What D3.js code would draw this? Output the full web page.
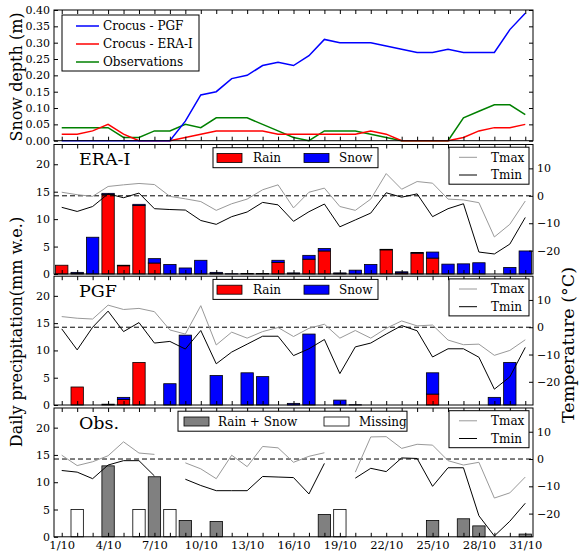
<!DOCTYPE html>
<html>
<head>
<meta charset="utf-8">
<script src="https://cdn.jsdelivr.net/npm/d3@7"></script>
<style>
  body { margin: 0; background: #fff; }
  text { font-family: "DejaVu Serif", serif; fill: #000; }
</style>
</head>
<body>
<svg id="chart" width="579" height="551"></svg>
<script>
// ---- data: October, days 1..31 ----
const days = [1,2,3,4,5,6,7,8,9,10,11,12,13,14,15,16,17,18,19,20,21,22,23,24,25,26,27,28,29,30,31];
const labelDays = [1,4,7,10,13,16,19,22,25,28,31];
const labelText = ["1/10","4/10","7/10","10/10","13/10","16/10","19/10","22/10","25/10","28/10","31/10"];

// snow depth (m)
const depthPGF = [0,0,0,0,0,0,0,0,0.06,0.14,0.15,0.19,0.20,0.23,0.24,0.23,0.26,0.31,0.30,0.30,0.30,0.29,0.28,0.27,0.27,0.28,0.27,0.27,0.27,0.34,0.39];
const depthERA = [0.02,0.02,0.03,0.05,0.02,0,0,0,0.01,0.02,0.03,0.03,0.03,0.03,0.02,0.02,0.02,0.02,0.02,0.02,0.03,0.02,0,0,0,0,0.01,0.03,0.04,0.04,0.05];
const depthObs = [0.04,0.04,0.04,0.04,0.01,0.01,0.03,0.03,0.05,0.04,0.07,0.07,0.07,0.05,0.03,0.01,0,0.03,0.03,0.03,0.02,0.01,0,0,0,0,0.07,0.09,0.11,0.11,0.08];

// ERA-Interim daily precipitation (mm w.e.) and temperature (°C)
const eraRain = [1.6,0.1,0,14.5,1.5,12.5,2.0,0,0,0,0.1,0,0,0,2.1,0.1,2.7,4.2,0.1,0,0,4.4,0.2,3.8,2.9,0,0,0,0,0,0];
const eraSnow = [0,0.2,6.7,0.2,0.1,0.2,0.8,1.75,1.1,2.5,0.2,0.05,0.1,0.1,0.4,0.1,0.7,0.45,0.1,0.7,1.75,0.1,0.2,0.1,1.1,1.8,1.85,2.05,0,1.2,4.2];
const eraTmax = [1.3,0.4,-0.2,3.4,4.0,4.5,4.1,-0.2,-1.1,-2.1,-5.3,-2.9,-1.2,2.2,4.0,-4.4,1.3,2.8,-3.9,-5.3,-1.2,8.1,2.4,5.2,4.6,-1.2,-1.5,-2.5,-15.0,-10.4,-1.9];
const eraTmin = [-4.2,-5.7,-3.9,0.7,-0.7,1.0,-4.7,-5.0,-5.2,-9.0,-10.4,-7.6,-5.9,-2.4,-3.3,-9.3,-5.8,-3.0,-11.3,-8.8,-6.3,1.1,-0.5,0.7,-7.6,-4.7,-2.9,-20.5,-21.2,-17.6,-7.9];

// PGF daily precipitation (mm w.e.) and temperature (°C)
const pgfRain = [0,3.3,0,0,1.0,7.8,0,0,0,0,0,0,0,0,0,0,0,0,0,0,0,0,0,0,2.0,0,0,0,0,0,0];
const pgfSnow = [0,0,0,0.15,0.4,0,0,3.9,12.8,0,5.4,0,5.9,5.2,0,0.3,13.0,0,0.9,0.05,0,0,0,0,3.9,0,0,0,1.4,7.8,0];
const pgfTmax = [3.9,3.3,3.0,8.1,6.5,6.9,5.7,-1.0,-2.5,7.9,-6.5,-1.8,-4.0,-1.6,-0.1,-3.4,-0.4,1.1,-4.0,-1.2,-4.0,-0.4,2.3,0.5,0.8,-4.7,-6.4,-6.2,-10.3,-8.5,-4.6];
const pgfTmin = [-0.6,-8.3,0,5.9,-1.6,1.7,-5.8,-5.2,-8.0,-1.2,-13.4,-9.1,-6.2,-3.3,-3.3,-10.4,-7.9,-4.5,-17.0,-7.2,-5.8,-2.5,0.6,-1.3,-10.9,-7.9,-7.9,-11.0,-22.7,-18.2,-7.4];

// station observations; missing days shown as empty bars
const obsPrecip = [0,0,0,13.0,0,0,11.0,0,3.0,0,2.8,0,0,0,0,0,0,4.1,0,0,0,0,0,0,3.0,0,3.3,2.0,0,0,0.5];
const obsMissing = [0,5,0,0,0,5,0,5,0,0,0,0,0,0,0,0,0,0,5,0,0,0,0,0,0,0,0,0,0,0,0];
const obsTmax = [1.4,-2.4,-1.0,1.2,6.3,2.2,1.7,null,-1.4,-3.6,-7.2,1.4,-2.8,4.6,4.1,-1.2,1.0,2.3,null,-4.8,8.1,8.2,3.9,5.4,5.1,-0.6,-2.2,-1.2,-14.3,-12.4,-6.6];
const obsTmin = [-4.2,-4.8,-7.2,-2.2,-0.6,-0.6,-6.2,null,-7.4,-9.7,-11.6,-11.6,-11.6,-6.4,-6.6,-6.8,-12.8,-1.6,null,-7.0,-3.4,-4.6,0.4,0.2,-10.0,-3.2,-3.2,-20.8,-28.2,-22.8,-16.2];

// ---- layout ----
const svg = d3.select("#chart");
const X0 = 54, X1 = 533;
const x = d3.scaleLinear().domain([0.5, 31.5]).range([X0, X1]);
const barW = x(0.8) - x(0);
const TICK = 4;

const P = {
  depth: { top: 10,    bottom: 140.7 },
  era:   { top: 144.5, bottom: 274 },
  pgf:   { top: 276.2, bottom: 405 },
  obs:   { top: 408,   bottom: 536.8 }
};

function styleAxis(sel) {
  sel.select(".domain").remove();
  sel.selectAll("line").attr("stroke", "#000");
  sel.selectAll("text").style("font-size", "11px").style("font-family", '"DejaVu Serif", serif');
}

function xAxes(g, p, withLabels) {
  const lab = new Map(labelDays.map((d, i) => [d, labelText[i]]));
  const bottom = d3.axisBottom(x).tickValues(days).tickSizeInner(-TICK).tickSizeOuter(0)
    .tickPadding(4).tickFormat(d => withLabels ? (lab.get(d) || "") : "");
  const top = d3.axisTop(x).tickValues(days).tickSizeInner(-TICK).tickSizeOuter(0).tickFormat("");
  const gb = g.append("g").attr("transform", `translate(0,${p.bottom})`).call(bottom).call(styleAxis);
  g.append("g").attr("transform", `translate(0,${p.top})`).call(top).call(styleAxis);
  gb.selectAll("text").style("font-size", "11.5px");
}

function frame(g, p) {
  g.append("rect").attr("x", X0).attr("y", p.top)
    .attr("width", X1 - X0).attr("height", p.bottom - p.top)
    .attr("fill", "none").attr("stroke", "#000").attr("stroke-width", 1);
}

function legendBox(g, x0, y0, w, h) {
  g.append("rect").attr("x", x0).attr("y", y0).attr("width", w).attr("height", h)
    .attr("fill", "#fff").attr("stroke", "#000").attr("stroke-width", 1);
}

// ---- snow depth panel ----
{
  const p = P.depth;
  const g = svg.append("g");
  const y = d3.scaleLinear().domain([0, 0.4]).range([p.bottom, p.top]);
  const line = d3.line().x((d, i) => x(days[i])).y(d => y(d));
  [[depthObs, "#008000"], [depthERA, "#ff0000"], [depthPGF, "#0000ff"]].forEach(([s, c]) => {
    g.append("path").datum(s).attr("d", line).attr("fill", "none")
      .attr("stroke", c).attr("stroke-width", 1.5);
  });
  frame(g, p);
  xAxes(g, p, false);
  g.append("g").attr("transform", `translate(${X0},0)`)
    .call(d3.axisLeft(y).tickValues(d3.range(0, 0.401, 0.05)).tickFormat(d3.format(".2f"))
      .tickSizeInner(-TICK).tickSizeOuter(0).tickPadding(4)).call(styleAxis);
  g.append("g").attr("transform", `translate(${X1},0)`)
    .call(d3.axisRight(y).tickValues(d3.range(0, 0.401, 0.05)).tickFormat("")
      .tickSizeInner(-TICK).tickSizeOuter(0)).call(styleAxis);

  legendBox(g, 62, 15, 137, 56);
  const items = [["Crocus - PGF", "#0000ff"], ["Crocus - ERA-I", "#ff0000"], ["Observations", "#008000"]];
  items.forEach(([t, c], i) => {
    const yy = 26 + i * 18;
    g.append("line").attr("x1", 76).attr("x2", 99).attr("y1", yy).attr("y2", yy)
      .attr("stroke", c).attr("stroke-width", 1.5);
    g.append("text").attr("x", 103).attr("y", yy).attr("dy", "0.35em")
      .style("font-size", "12px").text(t);
  });
}

// ---- precipitation / temperature panels ----
function precipPanel(p, name, bars, tmax, tmin, barLegend, withLabels) {
  const g = svg.append("g");
  const yP = d3.scaleLinear().domain([0, 23.6]).range([p.bottom, p.top]);
  const yT = d3.scaleLinear().domain([-28.5, 18.7]).range([p.bottom, p.top]);

  // bars (rain and snow stacked)
  const stackBase = days.map(() => 0);
  bars.forEach(b => {
    b.values.forEach((v, i) => {
      if (v > 0) {
        const y0 = b.stack ? stackBase[i] : 0;
        g.append("rect")
          .attr("x", x(days[i]) - barW / 2).attr("width", barW)
          .attr("y", yP(y0 + v)).attr("height", yP(y0) - yP(y0 + v))
          .attr("fill", b.color).attr("stroke", "#000").attr("stroke-width", 0.8);
        if (b.stack) stackBase[i] += v;
      }
    });
  });

  // 0 °C reference
  g.append("line").attr("x1", X0).attr("x2", X1).attr("y1", yT(0)).attr("y2", yT(0))
    .attr("stroke", "#000").attr("stroke-width", 1).attr("stroke-dasharray", "5,3");

  const line = d3.line().defined(d => d != null).x((d, i) => x(days[i])).y(d => yT(d));
  g.append("path").datum(tmax).attr("d", line).attr("fill", "none")
    .attr("stroke", "#999").attr("stroke-width", 1);
  g.append("path").datum(tmin).attr("d", line).attr("fill", "none")
    .attr("stroke", "#000").attr("stroke-width", 1);

  frame(g, p);
  xAxes(g, p, withLabels);
  g.append("g").attr("transform", `translate(${X0},0)`)
    .call(d3.axisLeft(yP).tickValues([0, 5, 10, 15, 20])
      .tickSizeInner(-TICK).tickSizeOuter(0).tickPadding(4)).call(styleAxis);
  g.append("g").attr("transform", `translate(${X1},0)`)
    .call(d3.axisRight(yT).tickValues([-20, -10, 0, 10])
      .tickSizeInner(-TICK).tickSizeOuter(0).tickPadding(4)).call(styleAxis);

  // panel name
  g.append("text").attr("x", 79).attr("y", p.top + 20.5)
    .style("font-size", "17.5px").text(name);

  // bar legend
  const lb = barLegend;
  legendBox(g, lb.x, p.top + 3.2, lb.w, 20);
  lb.items.forEach(it => {
    g.append("rect").attr("x", it.px).attr("y", p.top + 9).attr("width", 25).attr("height", 9)
      .attr("fill", it.color).attr("stroke", "#000").attr("stroke-width", 0.8);
    g.append("text").attr("x", it.tx).attr("y", p.top + 13.3).attr("dy", "0.35em")
      .style("font-size", "12px").text(it.label);
  });

  // temperature legend
  legendBox(g, 449, p.top + 2.7, 80, 37);
  [["Tmax", "#999"], ["Tmin", "#000"]].forEach(([t, c], i) => {
    const yy = p.top + 12.8 + i * 17.7;
    g.append("line").attr("x1", 459).attr("x2", 477).attr("y1", yy).attr("y2", yy)
      .attr("stroke", c).attr("stroke-width", 1);
    g.append("text").attr("x", 491).attr("y", yy).attr("dy", "0.35em")
      .style("font-size", "12px").text(t);
  });
}

const rainSnowLegend = { x: 213, w: 165, items: [
  { color: "#ff0000", label: "Rain", px: 217, tx: 253 },
  { color: "#0000ff", label: "Snow", px: 304, tx: 339 } ] };

precipPanel(P.era, "ERA-I",
  [{ values: eraRain, color: "#ff0000", stack: true }, { values: eraSnow, color: "#0000ff", stack: true }],
  eraTmax, eraTmin, rainSnowLegend, false);

precipPanel(P.pgf, "PGF",
  [{ values: pgfRain, color: "#ff0000", stack: true }, { values: pgfSnow, color: "#0000ff", stack: true }],
  pgfTmax, pgfTmin, rainSnowLegend, false);

precipPanel(P.obs, "Obs.",
  [{ values: obsPrecip, color: "#808080", stack: false }, { values: obsMissing, color: "#ffffff", stack: false }],
  obsTmax, obsTmin,
  { x: 178, w: 229, items: [
    { color: "#808080", label: "Rain + Snow", px: 184, tx: 218 },
    { color: "#ffffff", label: "Missing", px: 324, tx: 359 } ] }, true);

// ---- axis titles ----
svg.append("text").attr("transform", "translate(22,77) rotate(-90)")
  .attr("text-anchor", "middle").style("font-size", "16px").text("Snow depth (m)");
svg.append("text").attr("transform", "translate(22,332) rotate(-90)")
  .attr("text-anchor", "middle").style("font-size", "16px").text("Daily precipitation(mm w.e.)");
svg.append("text").attr("transform", "translate(574,345) rotate(-90)")
  .attr("text-anchor", "middle").style("font-size", "17.5px").text("Temperature (°C)");
</script>
</body>
</html>
